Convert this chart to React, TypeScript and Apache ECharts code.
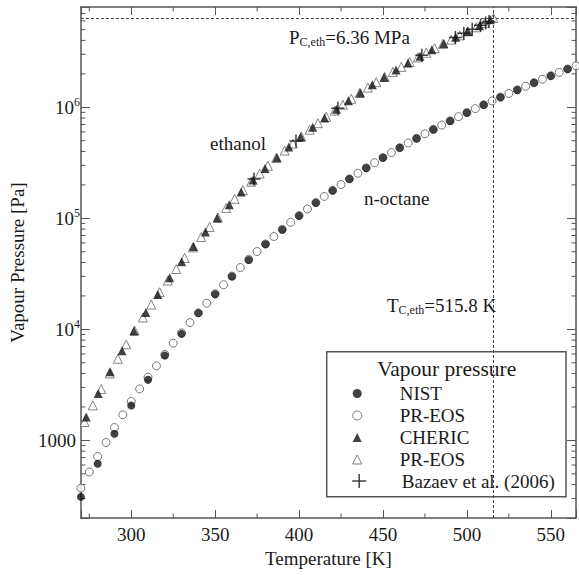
import React, { useEffect, useRef } from 'react';
import * as echarts from 'echarts';

const FONT = "'Liberation Serif', 'Times New Roman', Times, serif";
const TEXT = '#1a1a1a';
const AXIS = '#555';

const X_MIN = 270;
const X_MAX = 565;
const Y_MIN = 200;
const Y_MAX = 8e6;

const xTickValues = [300, 350, 400, 450, 500, 550];
const xTickLabels = ['300', '350', '400', '450', '500', '550'];
const xMinorTicks = [275, 325, 375, 425, 475, 525];
const yTickValues = [1e3, 1e4, 1e5, 1e6];
const yTickLabels = ['1000', '10^4', '10^5', '10^6'];
const yMinorTicks = [
  300, 400, 500, 600, 700, 800, 900,
  2000, 3000, 4000, 5000, 6000, 7000, 8000, 9000,
  2e4, 3e4, 4e4, 5e4, 6e4, 7e4, 8e4, 9e4,
  2e5, 3e5, 4e5, 5e5, 6e5, 7e5, 8e5, 9e5,
  2e6, 3e6, 4e6, 5e6, 6e6, 7e6,
];

const critTemp = 515.8;
const critPressure = 6.36e6;

// n-octane, NIST (filled circles)
const octaneNistT = [270, 280, 290, 300, 310, 320, 330, 340, 350, 360, 370, 380, 390, 400, 410, 420, 430, 440, 450, 460, 470, 480, 490, 500, 510, 520, 530, 540, 550, 560];
const octaneNistP = [310, 615, 1146, 2060, 3510, 5810, 9110, 14000, 20700, 29900, 42200, 58300, 79000, 105200, 137800, 177600, 225800, 283400, 351600, 431400, 524000, 630800, 753200, 892800, 1051000, 1230000, 1433000, 1661000, 1918000, 2208000];

// n-octane, PR-EOS (open circles)
const octanePrT = [270, 275, 280, 285, 290, 295, 300, 305, 310, 315, 320, 325, 330, 335, 340, 345, 350, 355, 360, 365, 370, 375, 380, 385, 390, 395, 400, 405, 410, 415, 420, 425, 430, 435, 440, 445, 450, 455, 460, 465, 470, 475, 480, 485, 490, 495, 500, 505, 510, 515, 520, 525, 530, 535, 540, 545, 550, 555, 560, 565];
const octanePrP = [372, 519, 716, 957, 1306, 1700, 2240, 2910, 3710, 4690, 5950, 7510, 9300, 11500, 14100, 17200, 20900, 25200, 30200, 36000, 42600, 50200, 58800, 68600, 79600, 92000, 105900, 121300, 138500, 157500, 178400, 201500, 226700, 254400, 284400, 317000, 352500, 391000, 432400, 477200, 525200, 576800, 632300, 691400, 755000, 822900, 895000, 971900, 1054000, 1141000, 1233000, 1332000, 1436000, 1547000, 1664000, 1789000, 1921000, 2061000, 2211000, 2367000];

// ethanol, CHERIC (filled triangles)
const ethanolChericT = [273.2, 280.3, 287.4, 294.5, 301.6, 308.7, 315.8, 322.9, 330.0, 337.1, 344.2, 351.3, 358.4, 365.5, 372.6, 379.7, 386.8, 393.9, 401.0, 408.1, 415.2, 422.3, 429.4, 436.5, 443.6, 450.7, 457.8, 464.9, 472.0, 479.1, 486.2, 493.3, 500.4, 507.5, 513.9];
const ethanolChericP = [1620, 2640, 4150, 6400, 9640, 14200, 20550, 29100, 40600, 55700, 75400, 100600, 132800, 172700, 221700, 281400, 353600, 439300, 541000, 660000, 799000, 960000, 1145000, 1355000, 1594000, 1864000, 2167000, 2505000, 2882000, 3299000, 3759000, 4263000, 4816000, 5417000, 6140000];

// ethanol, PR-EOS (open triangles)
const ethanolPrT = [272.2, 277.1, 282.1, 287.1, 292.0, 297.0, 302.0, 306.9, 311.9, 316.9, 321.8, 326.8, 331.8, 336.7, 341.7, 346.7, 351.6, 356.6, 361.6, 366.5, 371.5, 376.5, 381.4, 386.4, 391.4, 396.3, 401.3, 406.3, 411.2, 416.2, 421.2, 426.1, 431.1, 436.1, 441.0, 446.0, 451.0, 455.9, 460.9, 465.9, 470.8, 475.8, 480.8, 485.7, 490.7, 495.7, 500.6, 505.6, 510.6, 515.8];
const ethanolPrP = [1465, 2068, 2900, 4008, 5433, 7326, 9762, 12800, 16710, 21580, 27500, 34930, 43980, 54730, 67860, 83610, 101900, 124000, 149700, 179100, 213500, 253100, 297600, 349000, 407400, 471800, 545700, 628200, 718500, 820600, 933600, 1055000, 1193000, 1343000, 1503000, 1682000, 1877000, 2082000, 2311000, 2556000, 2815000, 3099000, 3406000, 3725000, 4071000, 4442000, 4831000, 5251000, 5750000, 6360000];

// ethanol, Bazaev et al. (2006) (plus signs)
const bazaevT = [373.15, 398.15, 423.15, 473.15, 493.15, 498.15, 503.15, 508.15, 511.15, 513.15];
const bazaevP = [226000, 498000, 980000, 2947000, 4252000, 4634000, 5042000, 5474000, 5745000, 5932000];

const legendNames: Record<string, string> = {
  'NIST': 'NIST',
  'PR-EOS (n-octane)': 'PR-EOS',
  'CHERIC': 'CHERIC',
  'PR-EOS (ethanol)': 'PR-EOS',
  'Bazaev et al. (2006)': 'Bazaev et al. (2006)',
};

const PLUS = 'path://M7,0L7,14M0,7L14,7';

const zip = (xs: number[], ys: number[]) => xs.map((x, i) => [x, ys[i]]);

function buildOption(): any {
  const axisLineStyle = { color: AXIS, width: 1.5 };
  const tickStyle = { color: AXIS, width: 1 };
  const MINOR = 4.5;

  const xLabel = (v: number) => {
    const i = xTickValues.indexOf(v);
    return i >= 0 ? xTickLabels[i] : '';
  };
  const yLabel = (v: number) => {
    const i = yTickValues.findIndex((t) => Math.abs(Math.log10(t) - Math.log10(v)) < 1e-6);
    if (i < 0) return '';
    const s = yTickLabels[i];
    if (s.indexOf('^') >= 0) {
      const [b, e] = s.split('^');
      return '{b|' + b + '}{sup|' + e + '}';
    }
    return '{p|' + s + '}';
  };

  return {
    animation: false,
    backgroundColor: '#fff',
    textStyle: { fontFamily: FONT, color: TEXT },
    grid: { left: 75, top: 7, right: 0, bottom: 57, containLabel: false },
    xAxis: [
      {
        type: 'value',
        position: 'bottom',
        min: X_MIN,
        max: X_MAX,
        name: 'Temperature [K]',
        nameLocation: 'middle',
        nameGap: 31,
        nameTextStyle: { fontSize: 19, fontFamily: FONT, color: TEXT },
        axisLine: { show: true, lineStyle: axisLineStyle },
        axisTick: { show: true, inside: true, length: 8, lineStyle: tickStyle },
        axisLabel: { formatter: xLabel, fontSize: 19, fontFamily: FONT, color: TEXT, margin: 7 },
        splitLine: { show: false },
      },
      {
        type: 'value',
        position: 'top',
        min: X_MIN,
        max: X_MAX,
        axisLine: { show: true, lineStyle: axisLineStyle },
        axisTick: { show: true, inside: true, length: 8, lineStyle: tickStyle },
        axisLabel: { show: false },
        splitLine: { show: false },
      },
    ],
    yAxis: [
      {
        type: 'log',
        logBase: 10,
        position: 'left',
        min: Y_MIN,
        max: Y_MAX,
        name: 'Vapour Pressure [Pa]',
        nameLocation: 'middle',
        nameGap: 43,
        nameTextStyle: { fontSize: 19, fontFamily: FONT, color: TEXT },
        axisLine: { show: true, lineStyle: axisLineStyle },
        axisTick: { show: true, inside: true, length: 9, lineStyle: tickStyle },
        axisLabel: {
          formatter: yLabel,
          margin: 1,
          color: TEXT,
          rich: {
            b: { fontSize: 19, fontFamily: FONT, color: TEXT, lineHeight: 22 },
            sup: { fontSize: 12, fontFamily: FONT, color: TEXT, lineHeight: 12, verticalAlign: 'top' },
            p: { fontSize: 19, fontFamily: FONT, color: TEXT, lineHeight: 22, padding: [0, 4, 0, 0] },
          },
        },
        splitLine: { show: false },
      },
      {
        type: 'log',
        logBase: 10,
        position: 'right',
        min: Y_MIN,
        max: Y_MAX,
        axisLine: { show: true, lineStyle: axisLineStyle },
        axisTick: { show: true, inside: true, length: 9, lineStyle: tickStyle },
        axisLabel: { show: false },
        splitLine: { show: false },
      },
    ],
    legend: [
      {
        orient: 'vertical',
        left: 352.2,
        top: 384,
        padding: 0,
        itemGap: 3,
        itemWidth: 9,
        itemHeight: 9,
        selectedMode: false,
        z: 6,
        formatter: (n: string) => '{t|' + legendNames[n] + '}',
        textStyle: {
          color: TEXT,
          rich: { t: { fontSize: 19, fontFamily: FONT, color: TEXT, lineHeight: 22, padding: [0, 0, 0, 33] } },
        },
        data: [
          { name: 'NIST', icon: 'circle', itemStyle: { color: '#111', borderWidth: 0 } },
          { name: 'PR-EOS (n-octane)', icon: 'circle', itemStyle: { color: '#fff', borderColor: '#555', borderWidth: 1 } },
          { name: 'CHERIC', icon: 'triangle', itemStyle: { color: '#111', borderWidth: 0 } },
          { name: 'PR-EOS (ethanol)', icon: 'triangle', itemStyle: { color: '#fff', borderColor: '#666', borderWidth: 1 } },
        ],
      },
      {
        orient: 'vertical',
        left: 349.7,
        top: 471.5,
        padding: 0,
        itemGap: 0,
        itemWidth: 14,
        itemHeight: 14,
        selectedMode: false,
        z: 6,
        formatter: (n: string) => '{t|' + legendNames[n] + '}',
        textStyle: {
          color: TEXT,
          rich: { t: { fontSize: 19, fontFamily: FONT, color: TEXT, lineHeight: 22, padding: [0, 0, 0, 30.6] } },
        },
        data: [
          { name: 'Bazaev et al. (2006)', icon: PLUS, itemStyle: { color: 'none', borderColor: '#111', borderWidth: 1.5 } },
        ],
      },
    ],
    graphic: [
      {
        type: 'rect',
        z: 3,
        shape: { x: 326.7, y: 351.7, width: 239.3, height: 145 },
        style: { fill: '#fff', stroke: AXIS, lineWidth: 1.5 },
      },
      {
        type: 'text',
        z: 7,
        x: 446.7,
        y: 369,
        style: { text: 'Vapour pressure', fontSize: 21.5, fontFamily: FONT, fill: TEXT, align: 'center', verticalAlign: 'middle' },
      },
      {
        type: 'text',
        z: 7,
        x: 210,
        y: 143,
        style: { text: 'ethanol', fontSize: 19, fontFamily: FONT, fill: TEXT, align: 'left', verticalAlign: 'middle' },
      },
      {
        type: 'text',
        z: 7,
        x: 364,
        y: 198,
        style: { text: 'n-octane', fontSize: 19, fontFamily: FONT, fill: TEXT, align: 'left', verticalAlign: 'middle' },
      },
      {
        type: 'text',
        z: 7,
        x: 289,
        y: 37,
        style: {
          text: '{n|P}{s|C,eth}{n|=6.36 MPa}',
          fill: TEXT,
          align: 'left',
          verticalAlign: 'middle',
          rich: {
            n: { fontSize: 19, fontFamily: FONT, fill: TEXT, lineHeight: 22 },
            s: { fontSize: 12, fontFamily: FONT, fill: TEXT, lineHeight: 12, verticalAlign: 'bottom' },
          },
        },
      },
      {
        type: 'text',
        z: 7,
        x: 387,
        y: 305,
        style: {
          text: '{n|T}{s|C,eth}{n|=515.8 K}',
          fill: TEXT,
          align: 'left',
          verticalAlign: 'middle',
          rich: {
            n: { fontSize: 19, fontFamily: FONT, fill: TEXT, lineHeight: 22 },
            s: { fontSize: 12, fontFamily: FONT, fill: TEXT, lineHeight: 12, verticalAlign: 'bottom' },
          },
        },
      },
    ],
    series: [
      {
        type: 'custom',
        name: 'xMinor',
        silent: true,
        xAxisIndex: 0,
        yAxisIndex: 0,
        data: xMinorTicks.map((t) => [t, Y_MIN]),
        renderItem: (params: any, api: any) => {
          const cs = params.coordSys;
          const x = api.coord([api.value(0), Y_MIN])[0];
          const yb = cs.y + cs.height;
          const yt = cs.y;
          return {
            type: 'group',
            children: [
              { type: 'line', shape: { x1: x, y1: yb, x2: x, y2: yb - MINOR }, style: { stroke: AXIS, lineWidth: 1 } },
              { type: 'line', shape: { x1: x, y1: yt, x2: x, y2: yt + MINOR }, style: { stroke: AXIS, lineWidth: 1 } },
            ],
          };
        },
      },
      {
        type: 'custom',
        name: 'yMinor',
        silent: true,
        xAxisIndex: 0,
        yAxisIndex: 0,
        data: yMinorTicks.map((v) => [X_MIN, v]),
        renderItem: (params: any, api: any) => {
          const cs = params.coordSys;
          const y = api.coord([X_MIN, api.value(1)])[1];
          const xl = cs.x;
          const xr = cs.x + cs.width;
          return {
            type: 'group',
            children: [
              { type: 'line', shape: { x1: xl, y1: y, x2: xl + MINOR, y2: y }, style: { stroke: AXIS, lineWidth: 1 } },
              { type: 'line', shape: { x1: xr, y1: y, x2: xr - MINOR, y2: y }, style: { stroke: AXIS, lineWidth: 1 } },
            ],
          };
        },
      },
      {
        type: 'scatter',
        name: 'PR-EOS (n-octane)',
        symbol: 'circle',
        symbolSize: 8,
        itemStyle: { color: '#fff', borderColor: '#555', borderWidth: 1 },
        data: zip(octanePrT, octanePrP),
        markLine: {
          silent: true,
          symbol: 'none',
          label: { show: false },
          lineStyle: { type: [3, 2], color: '#444', width: 1 },
          data: [{ yAxis: critPressure }, { xAxis: critTemp }],
        },
      },
      {
        type: 'scatter',
        name: 'NIST',
        symbol: 'circle',
        symbolSize: 8,
        itemStyle: { color: '#111' },
        data: zip(octaneNistT, octaneNistP),
      },
      {
        type: 'scatter',
        name: 'PR-EOS (ethanol)',
        symbol: 'triangle',
        symbolSize: 9,
        itemStyle: { color: '#fff', borderColor: '#666', borderWidth: 1 },
        data: zip(ethanolPrT, ethanolPrP),
      },
      {
        type: 'scatter',
        name: 'CHERIC',
        symbol: 'triangle',
        symbolSize: 9,
        itemStyle: { color: '#111' },
        data: zip(ethanolChericT, ethanolChericP),
      },
      {
        type: 'scatter',
        name: 'Bazaev et al. (2006)',
        symbol: PLUS,
        symbolSize: 13,
        itemStyle: { color: 'none', borderColor: '#111', borderWidth: 1.5 },
        data: zip(bazaevT, bazaevP),
      },
    ],
  };
}

export default function App() {
  const ref = useRef<HTMLDivElement>(null);
  useEffect(() => {
    if (!ref.current) return;
    const chart = echarts.init(ref.current, null, { renderer: 'svg' });
    chart.setOption(buildOption());
    return () => chart.dispose();
  }, []);
  return (
    <div
      ref={ref}
      style={{ position: 'fixed', left: 0, top: 0, width: 579, height: 575, background: '#fff' }}
    />
  );
}
